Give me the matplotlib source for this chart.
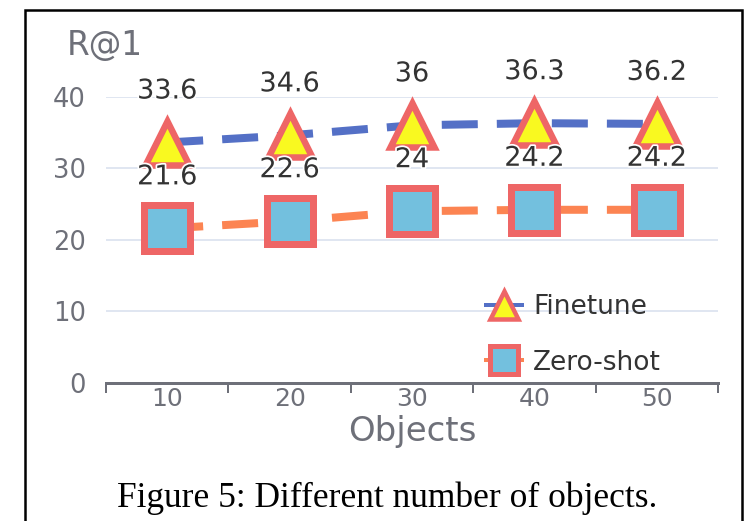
import numpy as np
import matplotlib
matplotlib.use("Agg")
import matplotlib.pyplot as plt
from matplotlib.lines import Line2D
from matplotlib.patches import Rectangle
import matplotlib.patheffects as pe

categories = ['10', '20', '30', '40', '50']
finetune = [33.6, 34.6, 36, 36.3, 36.2]
zeroshot = [21.6, 22.6, 24, 24.2, 24.2]
yticks = [0, 10, 20, 30, 40]
series_names = ['Finetune', 'Zero-shot']

W, H = 748, 521
fig = plt.figure(figsize=(W / 100, H / 100), dpi=100)
fig.patch.set_facecolor('white')

def px(v):
    return v * 0.72  # pixels -> points at dpi 100

ax = fig.add_axes([106 / W, 1 - 383 / H, (718 - 106) / W, (383 - 96.7) / H])
x = np.arange(len(categories))

GREY = '#6e7079'
RED = '#ee6666'

ax.set_ylim(0, 40)
ax.set_xlim(-0.5, len(categories) - 0.5)
ax.set_yticks(yticks)
ax.yaxis.grid(True, color='#e0e6f1', linewidth=px(2))
ax.set_axisbelow(True)
for s in ['top', 'right', 'left']:
    ax.spines[s].set_visible(False)
ax.spines['bottom'].set_color(GREY)
ax.spines['bottom'].set_linewidth(px(3))
ax.spines['bottom'].set_zorder(1)

ax.tick_params(axis='y', length=0, pad=px(20), labelsize=18.5, labelcolor=GREY)
ax.set_xticks(np.arange(-0.5, len(categories), 1.0))
ax.set_xticklabels([])
ax.set_xticks(x, minor=True)
ax.set_xticklabels(categories, minor=True)
ax.tick_params(axis='x', which='major', length=px(10), width=px(2), color=GREY, direction='out')
ax.tick_params(axis='x', which='minor', length=0, pad=px(4), labelsize=18, labelcolor=GREY)
ax.set_xlabel('Objects', fontsize=24.5, color=GREY, labelpad=px(4))

dash = (0, (4.5, 2.38))
ax.plot(x, finetune, color='#5470c6', lw=px(8), linestyle=dash, zorder=2, clip_on=False,
        dash_capstyle='butt')
ax.plot(x, zeroshot, color='#fc8452', lw=px(8), linestyle=dash, zorder=2, clip_on=False,
        dash_capstyle='butt')
ax.plot(x, finetune, linestyle='none', marker='^', markersize=px(44), markerfacecolor='#f9f920',
        markeredgecolor=RED, markeredgewidth=px(6.5), zorder=3, clip_on=False)
ax.plot(x, zeroshot, linestyle='none', marker='s', markersize=px(46.5), markerfacecolor='#73c0de',
        markeredgecolor=RED, markeredgewidth=px(7), zorder=3, clip_on=False)

halo = [pe.withStroke(linewidth=2.5, foreground='white')]
for vals in (finetune, zeroshot):
    for xi, v in zip(x, vals):
        ax.annotate(f'{v:g}', (xi, v), xytext=(0, px(44)), textcoords='offset points',
                    ha='center', va='baseline', fontsize=19.5, color='#333333',
                    zorder=5, path_effects=halo, annotation_clip=False)

fig.text(67 / W, 1 - 55 / H, 'R@1', fontsize=23.5, color=GREY, ha='left', va='baseline')

handles = [
    Line2D([], [], color='#5470c6', lw=px(4), marker='^', markersize=px(28),
           markerfacecolor='#f9f920', markeredgecolor=RED, markeredgewidth=px(4.5)),
    Line2D([], [], color='#fc8452', lw=px(4), marker='s', markersize=px(28),
           markerfacecolor='#73c0de', markeredgecolor=RED, markeredgewidth=px(5)),
]
fig.legend(handles, series_names, loc='upper left', bbox_to_anchor=(486 / W, 1 - 294 / H),
           frameon=False, fontsize=19, borderpad=0, borderaxespad=0,
           handlelength=1.36, handletextpad=0.42, labelspacing=1.12, labelcolor='#333333')

fig.text(387 / W, 1 - 498 / H, 'Figure 5: Different number of objects.',
         family='Liberation Serif', fontsize=25.5, ha='center', va='center', color='black')

fig.patches.append(Rectangle((25 / W, -0.1), (742 - 25) / W, 1.1 - 10 / H, transform=fig.transFigure,
                             fill=False, edgecolor='black', linewidth=1.8, zorder=10))

fig.savefig('out.png', dpi=100)
